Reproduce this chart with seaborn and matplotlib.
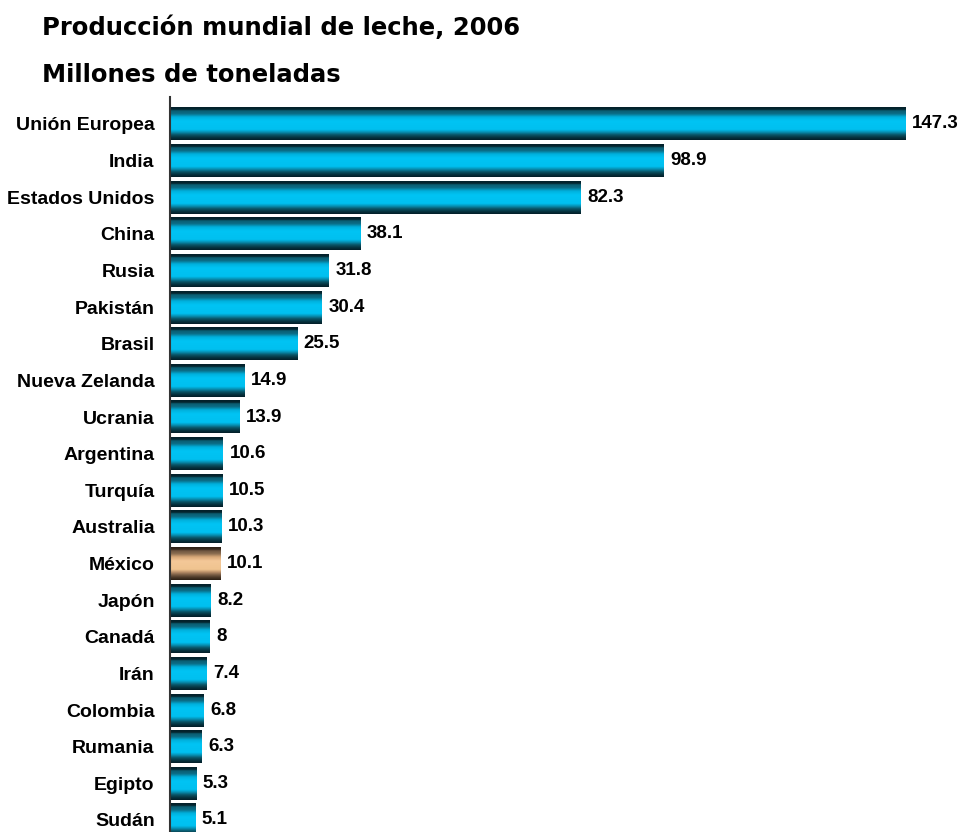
import numpy as np
import pandas as pd
import matplotlib
matplotlib.use("Agg")
import matplotlib.pyplot as plt
from matplotlib.colors import LinearSegmentedColormap
import seaborn as sns

countries = ["Unión Europea", "India", "Estados Unidos", "China", "Rusia", "Pakistán",
             "Brasil", "Nueva Zelanda", "Ucrania", "Argentina", "Turquía", "Australia",
             "México", "Japón", "Canadá", "Irán", "Colombia", "Rumania", "Egipto", "Sudán"]
production = [147.3, 98.9, 82.3, 38.1, 31.8, 30.4, 25.5, 14.9, 13.9, 10.6, 10.5, 10.3,
              10.1, 8.2, 8, 7.4, 6.8, 6.3, 5.3, 5.1]
value_labels = ["147.3", "98.9", "82.3", "38.1", "31.8", "30.4", "25.5", "14.9", "13.9",
                "10.6", "10.5", "10.3", "10.1", "8.2", "8", "7.4", "6.8", "6.3", "5.3", "5.1"]
highlight = "México"

df = pd.DataFrame({"pais": countries, "produccion": production})

sns.set_theme(style="white")
plt.rcParams["font.family"] = ["Liberation Sans", "DejaVu Sans"]
plt.rcParams["text.color"] = "black"
plt.rcParams["ytick.color"] = "black"
plt.rcParams["ytick.labelcolor"] = "black"

fig = plt.figure(figsize=(9.61, 8.32), dpi=100)
ax = fig.add_axes([170 / 961, 0.0, 1 - 170 / 961, 1 - 97 / 832])

sns.barplot(data=df, x="produccion", y="pais", orient="h", ax=ax,
            color="#00c0f0", width=0.9, saturation=1)

# cylinder-like shading: dark edges, bright centre
blue_cmap = LinearSegmentedColormap.from_list("blue_tube", [
    (0.00, "#03202a"), (0.07, "#04262f"), (0.11, "#0b5d72"), (0.20, "#0b6d86"),
    (0.30, "#00b0dc"), (0.42, "#00c4f4"), (0.68, "#00c0f0"), (0.76, "#078fb2"),
    (0.84, "#0a5668"), (0.92, "#063440"), (1.00, "#031e27")])
tan_cmap = LinearSegmentedColormap.from_list("tan_tube", [
    (0.00, "#2a1e14"), (0.07, "#3a2a1c"), (0.11, "#6e5540"), (0.20, "#8a6c50"),
    (0.30, "#d8a878"), (0.42, "#f4c898"), (0.68, "#f0c490"), (0.76, "#b88e68"),
    (0.84, "#7a5e46"), (0.92, "#4a3828"), (1.00, "#2a1e14")])
grad = np.linspace(0, 1, 256).reshape(-1, 1)

for patch, name in zip(ax.patches, countries):
    x0, y0 = patch.get_x(), patch.get_y()
    w, h = patch.get_width(), patch.get_height()
    cmap = tan_cmap if name == highlight else blue_cmap
    patch.set_facecolor("none")
    patch.set_edgecolor("none")
    # y axis is inverted: first image row sits at the bar's top edge (y0)
    ax.imshow(grad, cmap=cmap, aspect="auto", interpolation="bilinear",
              extent=(x0, x0 + w, y0 + h, y0), zorder=2)

for i, (v, lab) in enumerate(zip(production, value_labels)):
    ax.text(v + 1.3, i, lab, va="center", ha="left", fontsize=13.5,
            fontweight="bold", color="black")

ax.set_xlim(0, (961 - 170) / 4.99)
ax.set_ylim(19.33, -0.737)
ax.set_xlabel("")
ax.set_ylabel("")
ax.set_xticks([])
ax.tick_params(axis="y", length=0, pad=11)
for lbl in ax.get_yticklabels():
    lbl.set_fontweight("bold")
    lbl.set_fontsize(14)
    lbl.set_color("black")
for s in ["top", "right", "bottom"]:
    ax.spines[s].set_visible(False)
ax.spines["left"].set_color("#333333")
ax.spines["left"].set_linewidth(1.5)
ax.spines["left"].set_zorder(5)

fig.text(42 / 961, 1 - 28 / 832, "Producción mundial de leche, 2006", fontsize=17.5,
         fontweight="bold", family=["DejaVu Sans"], va="center", ha="left", color="black")
fig.text(42 / 961, 1 - 75 / 832, "Millones de toneladas", fontsize=17.5,
         fontweight="bold", family=["DejaVu Sans"], va="center", ha="left", color="black")

fig.savefig("out.png", dpi=100)
